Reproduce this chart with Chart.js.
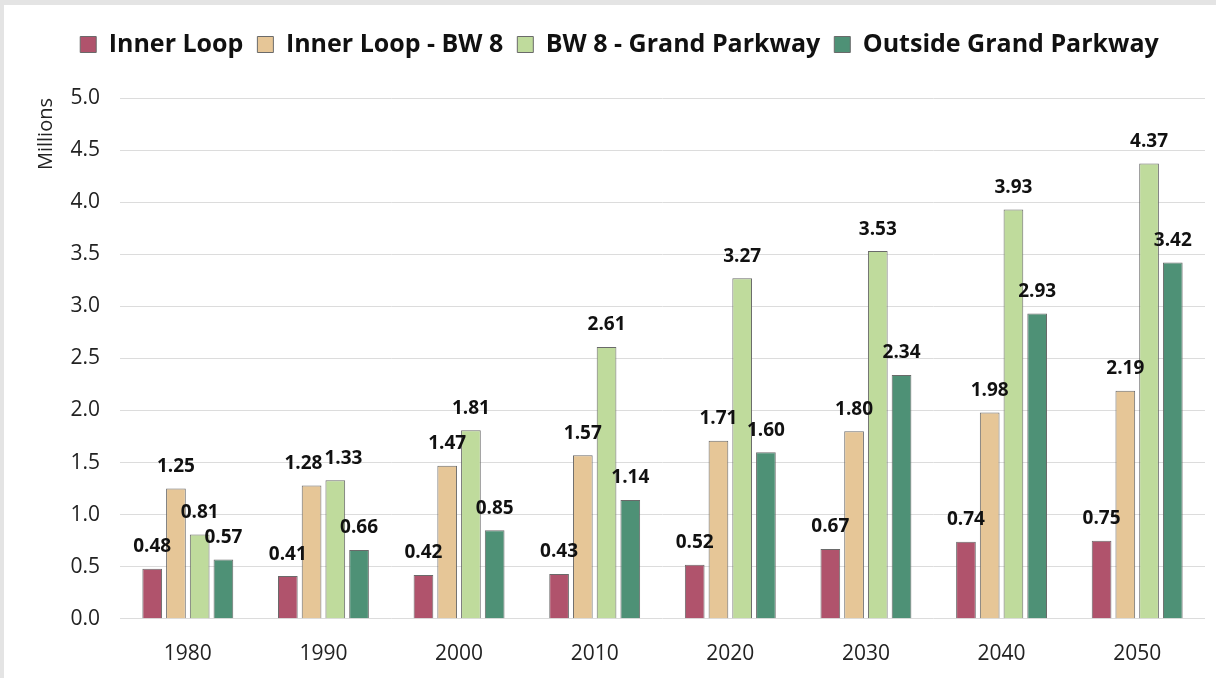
<!DOCTYPE html>
<html>
<head>
<meta charset="utf-8">
<script src="https://cdn.jsdelivr.net/npm/chart.js@4.4.0/dist/chart.umd.min.js"></script>
<style>
  html, body { margin: 0; padding: 0; background: #e4e4e4; }
  #wrap { position: absolute; left: 4px; top: 5px; width: 1212px; height: 673px; background: #fff; }
</style>
</head>
<body>
<div id="wrap"><canvas id="popChart"></canvas></div>
<script>
const years = ['1980', '1990', '2000', '2010', '2020', '2030', '2040', '2050'];
const innerLoop = [0.48, 0.41, 0.42, 0.43, 0.52, 0.67, 0.74, 0.75];
const innerToBW8 = [1.25, 1.28, 1.47, 1.57, 1.71, 1.80, 1.98, 2.19];
const bw8ToGrandPkwy = [0.81, 1.33, 1.81, 2.61, 3.27, 3.53, 3.93, 4.37];
const outsideGrandPkwy = [0.57, 0.66, 0.85, 1.14, 1.60, 2.34, 2.93, 3.42];

const fontFamily = "'Open Sans', 'Liberation Sans', sans-serif";

// value labels above each bar, nudged sideways when neighbours collide
const barLabels = {
    id: 'barLabels',
    afterDatasetsDraw(chart) {
        const ctx = chart.ctx;
        ctx.save();
        ctx.font = 'bold 19px ' + fontFamily;
        ctx.fillStyle = '#111';
        ctx.textAlign = 'center';
        ctx.textBaseline = 'middle';
        const h = 20;
        for (let i = 0; i < years.length; i++) {
            const boxes = [];
            chart.data.datasets.forEach((ds, d) => {
                const bar = chart.getDatasetMeta(d).data[i];
                const text = ds.data[i].toFixed(2);
                const w = ctx.measureText(text).width;
                boxes.push({ text, x: bar.x, y: bar.y - 22, w });
            });
            for (let k = 1; k < boxes.length; k++) {
                const a = boxes[k - 1], b = boxes[k];
                const overlapX = (a.w + b.w) / 2 + 2 - (b.x - a.x);
                if (overlapX > 0 && Math.abs(a.y - b.y) < h) {
                    a.x -= overlapX / 2;
                    b.x += overlapX / 2;
                }
            }
            boxes.forEach(b => ctx.fillText(b.text, b.x, b.y));
        }
        ctx.restore();
    }
};

// extra room between legend and plot
const legendGap = {
    id: 'legendGap',
    beforeInit(chart) {
        const fit = chart.legend.fit;
        chart.legend.fit = function () {
            fit.call(this);
            this.height += 31;
        };
    }
};

const data = {
    labels: years,
    datasets: [
        { label: 'Inner Loop', data: innerLoop, backgroundColor: '#b0536c' },
        { label: 'Inner Loop - BW 8', data: innerToBW8, backgroundColor: '#e6c697' },
        { label: 'BW 8 - Grand Parkway', data: bw8ToGrandPkwy, backgroundColor: '#bfdb9c' },
        { label: 'Outside Grand Parkway', data: outsideGrandPkwy, backgroundColor: '#4e9176' }
    ].map(ds => Object.assign(ds, {
        borderColor: '#6a6a6a',
        borderWidth: 1,
        categoryPercentage: 0.70,
        barPercentage: 0.83
    }))
};

const config = {
    type: 'bar',
    data: data,
    options: {
        responsive: true,
        maintainAspectRatio: false,
        animation: false,
        layout: { padding: { top: 13, right: 11, left: 30, bottom: 0 } },
        scales: {
            y: {
                min: 0,
                max: 5,
                afterFit(scale) { scale.width = 86; },
                ticks: {
                    stepSize: 0.5,
                    color: '#222',
                    font: { family: fontFamily, size: 21 },
                    padding: 20,
                    callback: v => v.toFixed(1)
                },
                grid: { color: '#dcdcdc', drawTicks: false },
                border: { display: false },
                title: {
                    display: true,
                    text: 'Millions',
                    align: 'end',
                    color: '#222',
                    font: { family: fontFamily, size: 20 },
                    padding: 0
                }
            },
            x: {
                afterFit(scale) { scale.height -= 4; },
                ticks: {
                    color: '#222',
                    font: { family: fontFamily, size: 21 },
                    padding: 15
                },
                grid: { display: false },
                border: { display: false }
            }
        },
        plugins: {
            legend: {
                position: 'top',
                labels: {
                    boxWidth: 16,
                    boxHeight: 16,
                    padding: 14,
                    color: '#111',
                    font: { family: fontFamily, size: 25, weight: 'bold' }
                }
            },
            tooltip: { enabled: false }
        }
    },
    plugins: [barLabels, legendGap]
};

const ctx = document.getElementById('popChart').getContext('2d');
const popChart = new Chart(ctx, config);
</script>
</body>
</html>
